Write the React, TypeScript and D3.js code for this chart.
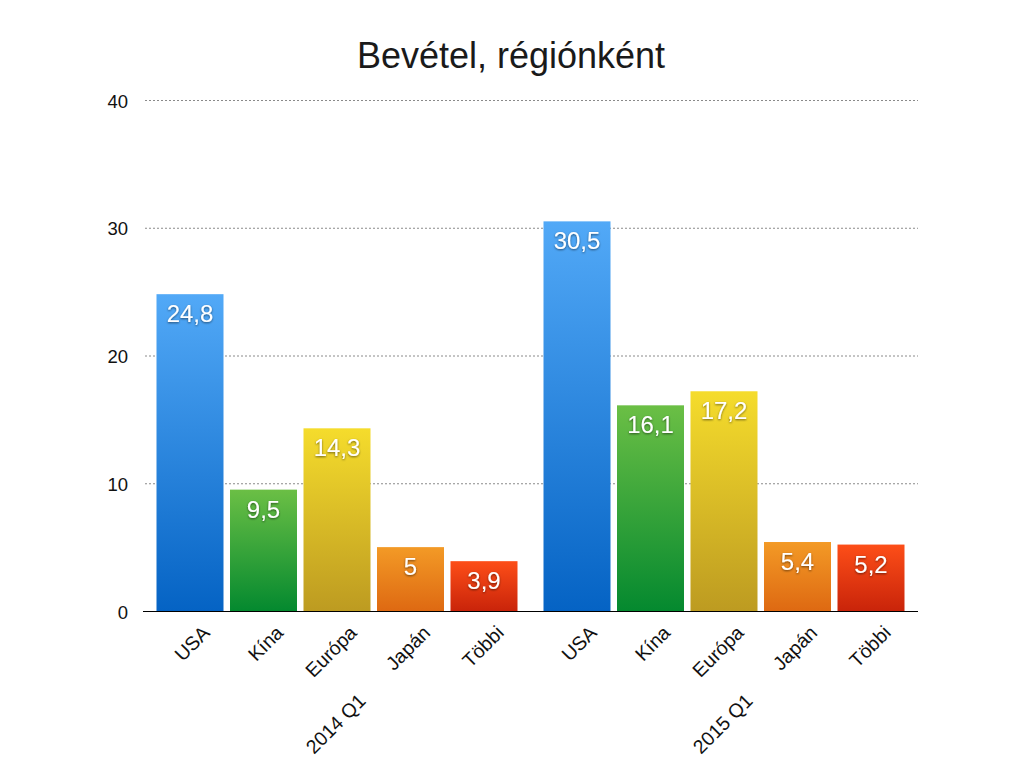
import React from "react";
import * as d3 from "d3";

const groups = ["2014 Q1", "2015 Q1"];
const categories = ["USA", "Kína", "Európa", "Japán", "Többi"];
const values2014 = [24.8, 9.5, 14.3, 5, 3.9];
const values2015 = [30.5, 16.1, 17.2, 5.4, 5.2];
const yTicks = [0, 10, 20, 30, 40];
const gradTop = ["#52a9f7", "#6bbf45", "#f5dc2c", "#f39a26", "#fd4e18"];
const gradBottom = ["#0563c4", "#04892f", "#bd9b21", "#de6912", "#c9240a"];

const seriesByGroup = [values2014, values2015];

export default function App() {
  const width = 1024;
  const height = 768;
  const left = 143;
  const right = 918;
  const y = d3.scaleLinear().domain([0, 40]).range([611, 100]);
  const x0 = d3
    .scaleBand<string>()
    .domain(groups)
    .range([left, right])
    .paddingInner(26 / 387)
    .paddingOuter(13.5 / 387);
  const x1 = d3
    .scaleBand<string>()
    .domain(categories)
    .range([0, x0.bandwidth()])
    .paddingInner(6.5 / 73.5)
    .paddingOuter(0);
  const fmt = (v: number) => String(v).replace(".", ",");
  const font = "'Liberation Sans', Arial, Helvetica, sans-serif";

  return (
    <svg
      width={width}
      height={height}
      style={{ position: "absolute", left: 0, top: 0, background: "#fff" }}
      fontFamily={font}
    >
      <defs>
        {categories.map((c, i) => (
          <linearGradient key={c} id={`g${i}`} x1="0" y1="0" x2="0" y2="1">
            <stop offset="0" stopColor={gradTop[i]} />
            <stop offset="1" stopColor={gradBottom[i]} />
          </linearGradient>
        ))}
        <filter id="shadow" x="-20%" y="-20%" width="140%" height="160%">
          <feDropShadow dx="0" dy="1" stdDeviation="1" floodColor="#000" floodOpacity="0.55" />
        </filter>
      </defs>
      <rect x={0} y={0} width={width} height={height} fill="#fff" />
      <text x={511} y={68} textAnchor="middle" fontSize={36} fill="#1a1a1a">
        Bevétel, régiónként
      </text>
      {yTicks.map((t) => (
        <g key={t}>
          {t > 0 && (
            <line
              x1={145}
              x2={right}
              y1={y(t) + 0.5}
              y2={y(t) + 0.5}
              stroke="#8a8a8a"
              strokeWidth={1}
              strokeDasharray="2,2"
            />
          )}
          <text x={128} y={y(t) + 7.5} textAnchor="end" fontSize={18.5} fill="#111">
            {t}
          </text>
        </g>
      ))}
      {groups.map((g, gi) => (
        <g key={g} transform={`translate(${x0(g)},0)`}>
          {categories.map((c, ci) => {
            const v = seriesByGroup[gi][ci];
            const bx = x1(c)!;
            const bw = x1.bandwidth();
            const top = y(v);
            return (
              <g key={c}>
                <rect x={bx} y={top} width={bw} height={y(0) - top} fill={`url(#g${ci})`} />
                <text
                  x={bx + bw / 2}
                  y={top + 28}
                  textAnchor="middle"
                  fontSize={24}
                  fill="#fff"
                  filter="url(#shadow)"
                >
                  {fmt(v)}
                </text>
                <text
                  transform={`translate(${bx + bw / 2 + 21},634) rotate(-45)`}
                  textAnchor="end"
                  fontSize={19.5}
                  fill="#111"
                >
                  {c}
                </text>
              </g>
            );
          })}
          <text
            transform={`translate(${x0.bandwidth() / 2 + 30},702) rotate(-45)`}
            textAnchor="end"
            fontSize={19.5}
            fill="#111"
          >
            {g}
          </text>
        </g>
      ))}
      <line x1={left} x2={right} y1={611.5} y2={611.5} stroke="#000" strokeWidth={1.2} />
    </svg>
  );
}
